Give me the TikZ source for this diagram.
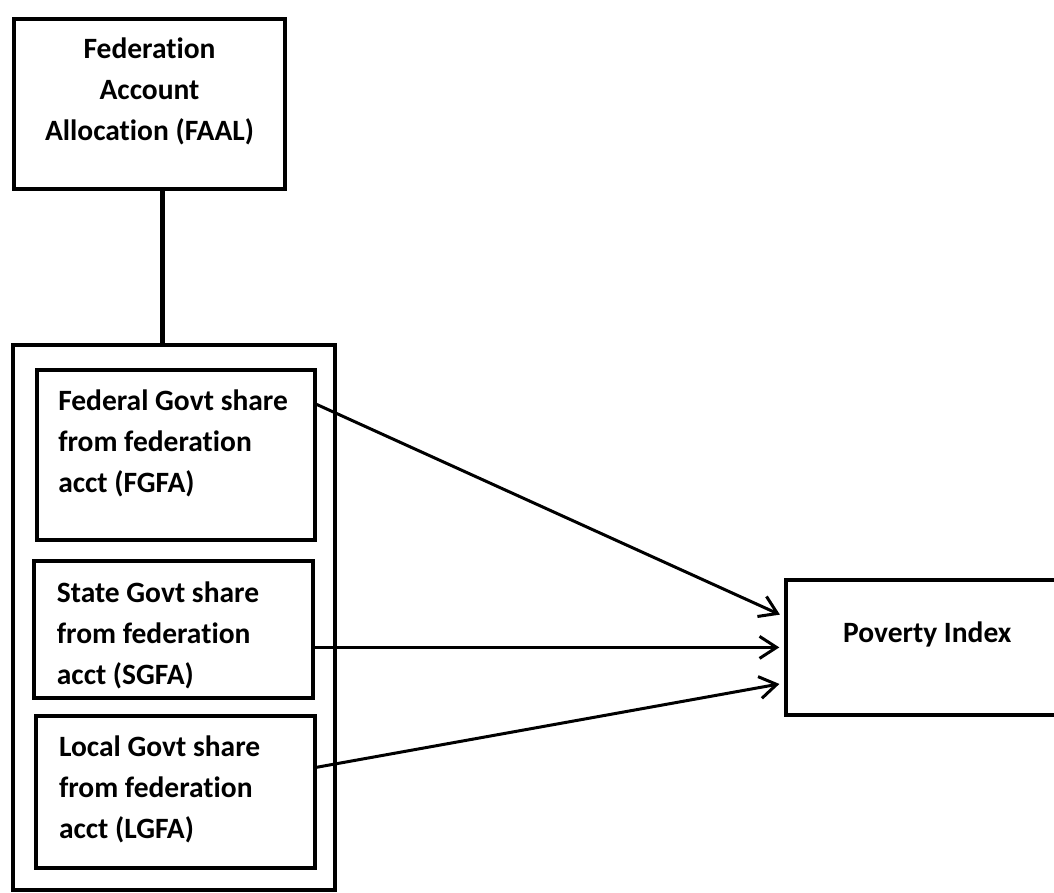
\documentclass[tikz,border=0pt]{standalone}
\usepackage{fontspec}
\setmainfont{Carlito}[Ligatures=NoCommon]
\usepackage{tikz}
\usetikzlibrary{positioning, arrows.meta, calc}

\begin{document}
\begin{tikzpicture}[x=1pt, y=-1pt,
    font=\fontsize{29.5}{41}\selectfont\bfseries,
    box/.style={draw, line width=4pt, inner sep=0pt, outer sep=0pt},
    txt/.style={inner sep=0pt, align=left},
    link/.style={line width=4.5pt},
    flow/.style={-{Straight Barb[length=17pt, width=22pt]}, line width=3pt, shorten >=7pt}]
  \useasboundingbox (0,0) rectangle (1054,893);
  % boxes
  \node[box, minimum width=271.6pt, minimum height=170pt] (faal) at (149.5,103.7) {};
  \node[box, minimum width=322pt, minimum height=545pt] (outer) at (174.3,617.2) {};
  \node[box, minimum width=278.3pt, minimum height=170.6pt] (fgfa) at (176.2,455) {};
  \node[box, minimum width=279.3pt, minimum height=136.7pt] (sgfa) at (173.3,629.7) {};
  \node[box, minimum width=279pt, minimum height=151.7pt] (lgfa) at (175.8,791.8) {};
  \node[box, minimum width=282pt, minimum height=135.8pt] (pov) at (927.3,647.4) {};
  % texts
  \node[txt, align=center, below=19pt of faal.north] (faaltxt)
    {Federation\\Account\\Allocation (FAAL)};
  \node[txt, below right=20pt and 21pt of fgfa.north west] (fgfatxt)
    {Federal Govt share\\from federation\\acct (FGFA)};
  \node[txt, below right=20.5pt and 23pt of sgfa.north west] (sgfatxt)
    {State Govt share\\from federation\\acct (SGFA)};
  \node[txt, below right=20pt and 22.5pt of lgfa.north west] (lgfatxt)
    {Local Govt share\\from federation\\acct (LGFA)};
  \node[txt, below=42pt of pov.north] (povtxt) {Poverty Index};
  % connectors
  \coordinate (stem) at (162.5,0);
  \draw[link] (stem |- faal.south) -- (stem |- outer.north);
  \draw[flow] ($(fgfa.north east)!0.2!(fgfa.south east)$) -- ($(pov.north west)!0.28!(pov.south west)$);
  \draw[flow] (pov.west -| sgfa.east) -- (pov.west);
  \draw[flow] ($(lgfa.north east)!0.34!(lgfa.south east)$) -- ($(pov.north west)!0.76!(pov.south west)$);
\end{tikzpicture}
\end{document}
